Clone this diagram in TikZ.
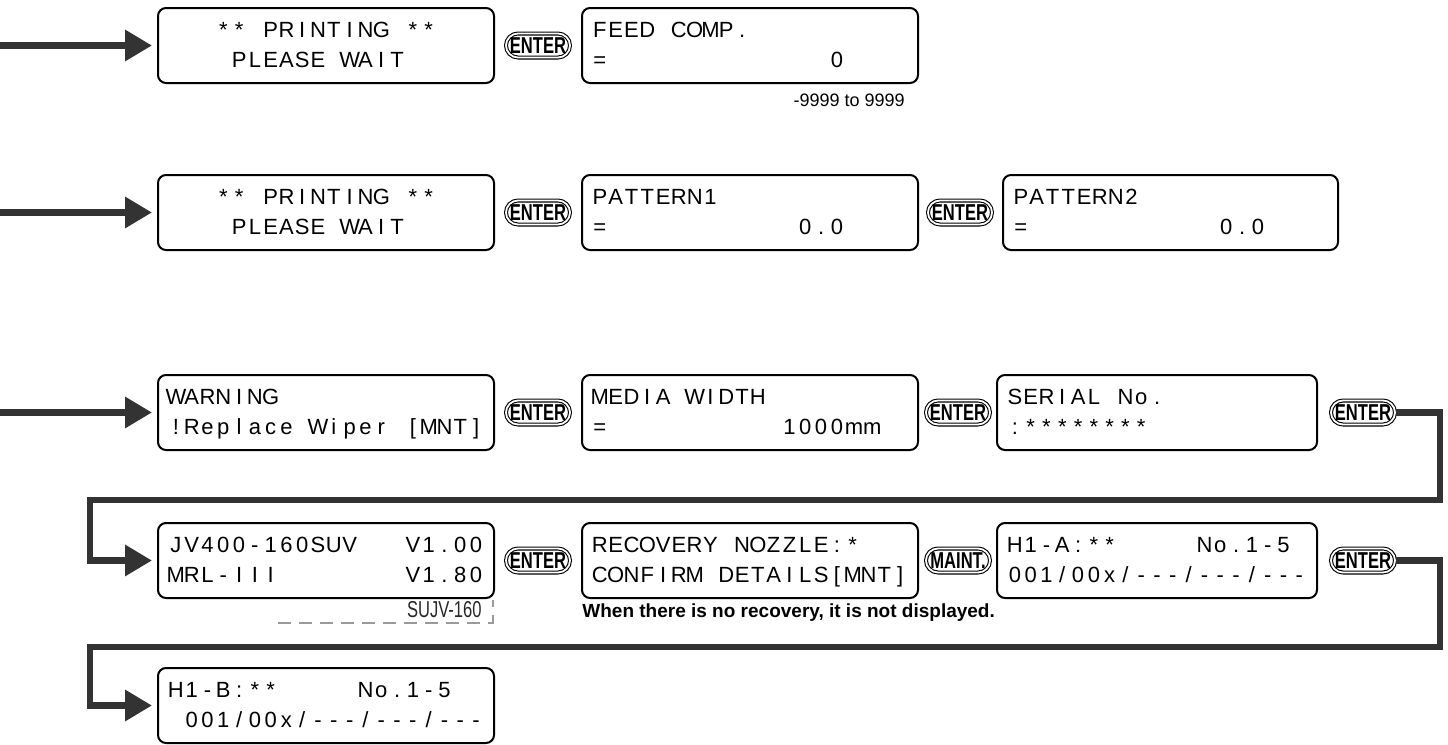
\documentclass[tikz,border=0pt]{standalone}
\usepackage{fontspec}
\usepackage{tikz}
\usetikzlibrary{arrows.meta}
\setmainfont{Liberation Sans}
\newfontfamily\lcdface{Liberation Sans}
\newfontfamily\keyface[FakeStretch=0.72]{Liberation Sans}
\newfontfamily\tagface[FakeStretch=0.72]{Liberation Sans}
\definecolor{flowgray}{HTML}{333333}
\definecolor{dashgray}{HTML}{9A9A9A}
\newcommand\lcdcell{7.9pt}
\newcommand\lcdfont{\lcdface\fontsize{11pt}{12pt}\selectfont}
% one character per display cell, _ is an empty cell
\ExplSyntaxOn
\NewDocumentCommand \lcdrow { m }
  {
    \tl_map_inline:nn {#1}
      {
        \str_if_eq:nnTF {##1} {_}
          { \hbox_to_wd:nn {\lcdcell} {} }
          { \hbox_to_wd:nn {\lcdcell} { \hss ##1 \hss } }
      }
  }
\ExplSyntaxOff
% two display lines in a box of width #1
\newcommand\lcdtwo[3]{\vbox to 37.5pt{\offinterlineskip\hsize=#1\vskip14.5pt
  \hbox to #1{\hskip5pt\smash{\lcdfont\lcdrow{#2}}\hss}\vskip15pt
  \hbox to #1{\hskip5pt\smash{\lcdfont\lcdrow{#3}}\hss}\vss}}

\begin{document}
\begin{tikzpicture}[x=.5pt,y=-.5pt,
  lcd/.style={draw,line width=1pt,rounded corners=4pt,inner sep=0pt,outer sep=0pt,anchor=north west},
  key/.style={draw,line width=.55pt,double=white,double distance=.9pt,rounded corners=6pt,
    minimum width=32pt,minimum height=12pt,inner sep=0pt,
    font={\keyface\bfseries\fontsize{11.5pt}{12pt}\selectfont}},
  flow/.style={draw=flowgray,line width=3.2pt,shorten >=3pt,
    -{Triangle[length=13.5pt,width=15pt,fill=flowgray]}},
  note/.style={inner sep=0pt,font=\fontsize{9pt}{11pt}\selectfont}]
\useasboundingbox (0,0) rectangle (1448,745);
% row 1
\node[lcd] (p1) at (158,8) {\lcdtwo{168pt}{___**_PRINTING_**}{____PLEASE_WAIT}};
\node[key] (k1) at (538,45.5) {ENTER};
\node[lcd] (f1) at (582,8) {\lcdtwo{168pt}{FEED_COMP.}{=______________0}};
\node[note,anchor=base east] (range) at (905,106) {-9999 to 9999};
% row 2
\node[lcd] (p2) at (158,175) {\lcdtwo{168pt}{___**_PRINTING_**}{____PLEASE_WAIT}};
\node[key] (k2) at (538,212.5) {ENTER};
\node[lcd] (pt1) at (582,175) {\lcdtwo{168pt}{PATTERN1}{=____________0.0}};
\node[key] (k3) at (960,212.5) {ENTER};
\node[lcd] (pt2) at (1003,175) {\lcdtwo{167.5pt}{PATTERN2}{=____________0.0}};
% row 3
\node[lcd] (w1) at (158,375) {\lcdtwo{168pt}{WARNING}{!Replace_Wiper_[MNT]}};
\node[key] (k4) at (538,412.5) {ENTER};
\node[lcd] (m1) at (582,375) {\lcdtwo{168pt}{MEDIA_WIDTH}{=___________1000{\makebox[\lcdcell][l]{mm}}}};
\node[key] (k5) at (958,412.5) {ENTER};
\node[lcd] (s1) at (997,375) {\lcdtwo{160pt}{SERIAL_No.}{:********}};
\node[key] (k6) at (1363,412.5) {ENTER};
% row 4
\node[lcd] (v1) at (158,523) {\lcdtwo{168pt}{JV400-160SUV___V1.00}{MRL-III________V1.80}};
\node[key] (k7) at (538,560.5) {ENTER};
\node[lcd] (r1) at (582,523) {\lcdtwo{168pt}{RECOVERY_NOZZLE:*}{CONFIRM_DETAILS[MNT]}};
\node[key] (k8) at (958,560.5) {MAINT.};
\node[lcd] (h1) at (997,523) {\lcdtwo{160pt}{H1-A:**_____No.1-5}{001/00x/---/---/---}};
\node[key] (k9) at (1363,560.5) {ENTER};
\node[anchor=base east,inner sep=0pt,text=black!85,font={\tagface\fontsize{11.5pt}{12pt}\selectfont}] (model) at (482,617) {SUJV-160};
\node[anchor=base west,inner sep=0pt,font={\bfseries\fontsize{9.5pt}{11pt}\selectfont}] (nonote) at (582,617) {When there is no recovery, it is not displayed.};
% row 5
\node[lcd] (h2) at (158,668) {\lcdtwo{168pt}{H1-B:**_____No.1-5}{_001/00x/---/---/---}};
% connectors
\coordinate (in1) at (0,45.5);
\coordinate (in2) at (0,212.5);
\coordinate (in3) at (0,412.5);
\coordinate (ra) at (1440,500);
\coordinate (la) at (90,500);
\coordinate (rb) at (1440,647);
\coordinate (lb) at (90,647);
\draw[flow] (in1) -- (p1.west);
\draw[flow] (in2) -- (p2.west);
\draw[flow] (in3) -- (w1.west);
\draw[flow] (k6.east) -| (ra) -- (la) |- (v1.west);
\draw[flow] (k9.east) -| (rb) -- (lb) |- (h2.west);
\coordinate (dl) at (278,623);
\coordinate (dt) at (493,600);
\draw[dashgray,line width=.8pt,dash pattern=on 6.5pt off 4pt] (dl) -| (dt);
\end{tikzpicture}
\end{document}
